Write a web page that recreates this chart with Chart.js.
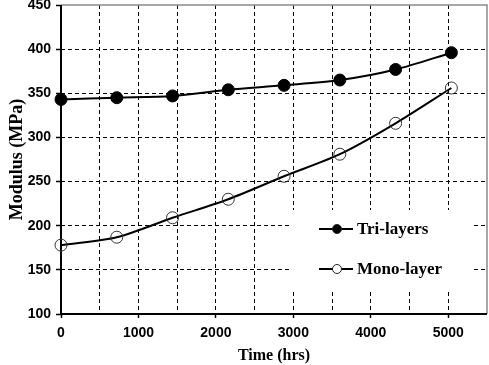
<!DOCTYPE html>
<html>
<head>
<meta charset="utf-8">
<script src="https://cdn.jsdelivr.net/npm/chart.js@4/dist/chart.umd.min.js"></script>
<style>
  html, body { margin: 0; padding: 0; background: #fff; }
  #wrap { width: 489px; height: 365px; }
</style>
</head>
<body>
<div id="wrap"><canvas id="c" width="489" height="365"></canvas></div>
<script>
// time in hours (30-day steps)
const hours = [0, 720, 1440, 2160, 2880, 3600, 4320, 5040];
const triLayers = [343, 345, 347, 354, 359, 365, 377, 396];
const monoLayer = [178, 187, 209, 230, 256, 281, 316, 356];
const seriesNames = ["Tri-layers", "Mono-layer"];

const X_MIN = 0, X_MAX = 5500, Y_MIN = 100, Y_MAX = 450;

const toPts = (xs, ys) => xs.map((x, i) => ({ x, y: ys[i] }));

// frame: black left/bottom axes, grey top/right border
const framePlugin = {
  id: "frame",
  beforeDatasetsDraw(chart) {
    const { ctx, chartArea: a } = chart;
    ctx.save();
    ctx.strokeStyle = "#8a8a8a";
    ctx.lineWidth = 1.5;
    ctx.beginPath();
    ctx.moveTo(a.left, a.top);
    ctx.lineTo(a.right, a.top);
    ctx.lineTo(a.right, a.bottom);
    ctx.stroke();
    ctx.strokeStyle = "#000";
    ctx.lineWidth = 2;
    ctx.beginPath();
    ctx.moveTo(a.left, a.top);
    ctx.lineTo(a.left, a.bottom);
    ctx.lineTo(a.right, a.bottom);
    ctx.stroke();
    ctx.restore();
  }
};

// legend box sitting inside the plot
const legendPlugin = {
  id: "boxLegend",
  afterDatasetsDraw(chart) {
    const { ctx } = chart;
    ctx.save();
    ctx.fillStyle = "#fff";
    ctx.fillRect(289, 210, 183, 79);
    const rows = [229, 269];
    chart.data.datasets.forEach((ds, i) => {
      const y = rows[i];
      ctx.strokeStyle = "#000";
      ctx.lineWidth = 2;
      ctx.beginPath();
      ctx.moveTo(319, y);
      ctx.lineTo(353, y);
      ctx.stroke();
      ctx.beginPath();
      ctx.arc(337, y, 4.5, 0, Math.PI * 2);
      ctx.fillStyle = i === 0 ? "#000" : "#fff";
      ctx.fill();
      ctx.lineWidth = 1;
      ctx.strokeStyle = "#222";
      ctx.stroke();
      ctx.fillStyle = "#000";
      ctx.font = "bold 17px 'Liberation Serif', 'Times New Roman', serif";
      ctx.textBaseline = "middle";
      ctx.fillText(ds.label, 357, y + 1);
    });
    ctx.restore();
  }
};

const tickFont = { family: "'Liberation Sans', Arial, sans-serif", size: 14, weight: "bold" };

new Chart(document.getElementById("c"), {
  type: "line",
  data: {
    datasets: [
      {
        label: seriesNames[0],
        data: toPts(hours, triLayers),
        borderColor: "#000",
        borderWidth: 2,
        tension: 0.3,
        pointRadius: 6,
        pointBackgroundColor: "#000",
        pointBorderColor: "#000",
        pointBorderWidth: 1,
        clip: false
      },
      {
        label: seriesNames[1],
        data: toPts(hours, monoLayer),
        borderColor: "#000",
        borderWidth: 2,
        tension: 0.3,
        pointRadius: 6,
        pointBackgroundColor: "rgba(0,0,0,0)",
        pointBorderColor: "#333",
        pointBorderWidth: 1,
        clip: false
      }
    ]
  },
  options: {
    responsive: false,
    animation: false,
    layout: { autoPadding: false, padding: { top: 5, right: 2, left: 0, bottom: 0 } },
    plugins: { legend: { display: false }, tooltip: { enabled: false } },
    scales: {
      x: {
        type: "linear",
        min: X_MIN,
        max: X_MAX,
        afterFit: s => { s.height = 51; s.paddingLeft = 0; s.paddingRight = 0; },
        ticks: {
          stepSize: 500,
          autoSkip: false,
          maxRotation: 0,
          padding: 7,
          color: "#000",
          font: tickFont,
          callback: v => (v % 1000 === 0 ? String(v) : "")
        },
        grid: {
          color: c => (c.tick && (c.tick.value === X_MIN || c.tick.value === X_MAX) ? "rgba(0,0,0,0)" : "#000"),
          lineWidth: 1,
          tickLength: 4,
          tickWidth: 1.5,
          tickBorderDash: [],
          tickColor: c => (c.tick && c.tick.value % 1000 === 0 ? "#000" : "rgba(0,0,0,0)")
        },
        border: { display: false, dash: [4, 3] },
        title: {
          display: true,
          text: "Time (hrs)",
          color: "#000",
          font: { family: "'Liberation Serif', 'Times New Roman', serif", size: 16, weight: "bold" },
          padding: { top: 0, bottom: 0 }
        }
      },
      y: {
        min: Y_MIN,
        max: Y_MAX,
        afterFit: s => { s.width = 61; s.paddingTop = 0; s.paddingBottom = 0; },
        ticks: {
          stepSize: 50,
          padding: 5,
          color: "#000",
          font: tickFont
        },
        grid: {
          color: c => (c.tick && (c.tick.value === Y_MIN || c.tick.value === Y_MAX) ? "rgba(0,0,0,0)" : "#000"),
          lineWidth: 1,
          tickLength: 5,
          tickWidth: 1.5,
          tickBorderDash: [],
          tickColor: "#000"
        },
        border: { display: false, dash: [4, 3] },
        title: {
          display: true,
          text: "Modulus (MPa)",
          color: "#000",
          font: { family: "'Liberation Serif', 'Times New Roman', serif", size: 18, weight: "bold" },
          padding: { top: 7, bottom: 0 }
        }
      }
    }
  },
  plugins: [framePlugin, legendPlugin]
});
</script>
</body>
</html>
